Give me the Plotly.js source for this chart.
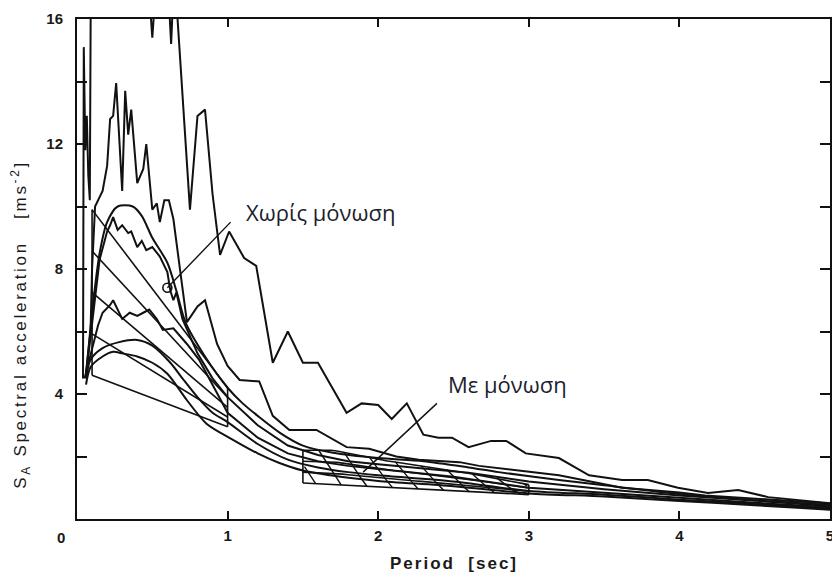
<!DOCTYPE html>
<html>
<head>
<meta charset="utf-8">
<script src="https://cdn.plot.ly/plotly-3.0.1.min.js"></script>
<style>
  html, body { margin: 0; padding: 0; background: #fff; }
  #chart { width: 832px; height: 575px; }
</style>
</head>
<body>
<div id="chart"></div>
<script>
// Acceleration response spectra, SA [m/s^2] against period T [s]

// Record A: strongest fixed-base response (runs off the top of the frame)
const periodA = [0.04,0.045,0.055,0.065,0.075,0.085,0.092,0.3,0.47,0.5,0.53,0.6,0.625,0.645,0.665,0.75,0.8,0.85,0.9,0.95,1.01,1.11,1.19,1.30,1.40,1.50,1.60,1.79,1.89,2.0,2.09,2.19,2.30,2.40,2.49,2.60,2.75,2.85,2.98,3.2,3.4,3.62,3.79,3.99,4.19,4.39,4.59,5.0];
const accelA  = [4.5,15.1,11.8,12.9,11.0,10.2,17.5,18,17.5,15.4,17.5,17.5,15.2,17.5,16.2,9.9,12.9,13.1,10.4,8.45,9.2,8.35,8.1,5.0,6.0,5.0,5.0,3.4,3.7,3.65,3.2,3.7,2.7,2.6,2.6,2.3,2.5,2.5,2.1,1.95,1.4,1.25,1.25,1.0,0.83,0.93,0.7,0.5];

// Record B
const periodB = [0.06,0.09,0.1,0.12,0.15,0.17,0.2,0.22,0.24,0.26,0.3,0.32,0.34,0.36,0.4,0.44,0.46,0.5,0.53,0.55,0.58,0.61,0.64,0.67,0.73,0.8,0.85,0.93,1.0,1.08,1.21,1.3,1.41,1.59,1.79,1.94,2.12,2.27,2.54,2.67,3.0,3.2,3.62,4.0,4.17,4.6,5.0];
const accelB  = [4.7,6.0,8.0,10.0,10.3,10.5,11.3,12.8,12.9,13.95,10.5,13.7,12.3,13.1,10.75,11.2,12.0,9.9,10.1,9.5,10.2,10.2,9.6,8.5,6.3,6.8,7.0,5.6,4.9,4.45,4.4,3.3,2.85,2.85,2.3,2.25,2.0,1.9,1.82,1.7,1.5,1.4,1.0,0.85,0.75,0.62,0.5];

// Record C
const periodC = [0.06,0.1,0.15,0.2,0.22,0.24,0.27,0.3,0.34,0.36,0.4,0.43,0.46,0.5,0.55,0.6,0.62,0.64,0.66,0.7,0.8,0.9,1.0,1.2,1.4,1.6,1.8,2.0,2.3,2.6,3.0,3.5,4.0,4.5,5.0];
const accelC  = [4.6,6.2,8.3,9.2,9.4,9.66,9.25,9.4,9.15,9.2,8.7,8.9,8.6,8.7,8.4,7.9,7.3,7.0,7.25,6.4,5.3,4.5,3.9,3.0,2.35,2.05,1.85,1.75,1.62,1.48,1.2,0.95,0.75,0.58,0.42];

// Record D
const periodD = [0.05,0.1,0.14,0.17,0.22,0.24,0.26,0.3,0.35,0.4,0.44,0.48,0.53,0.57,0.64,0.73,0.81,0.9,1.0,1.2,1.4,1.6,1.8,2.0,2.5,3.0,3.5,4.0,4.5,5.0];
const accelD  = [4.5,5.5,6.2,6.6,6.85,7.0,6.8,6.4,6.6,6.5,6.6,6.7,6.4,6.05,6.1,5.6,5.1,4.3,3.4,2.6,2.1,1.85,1.7,1.6,1.35,1.0,0.85,0.68,0.52,0.38];

// Smooth spectra E, F, G
const periodE = [0.06,0.1,0.15,0.2,0.27,0.37,0.43,0.5,0.6,0.66,0.72,0.85,1.0,1.1,1.2,1.35,1.5,1.7,2.0,2.3,2.6,2.8,3.2,3.5,4.0,4.5,5.0];
const accelE  = [4.6,6.6,8.5,9.5,10.0,10.0,9.7,9.0,8.2,7.3,6.3,5.2,4.2,3.7,3.3,2.75,2.35,2.12,1.95,1.85,1.65,1.5,1.25,1.08,0.8,0.6,0.45];

const periodF = [0.06,0.09,0.17,0.28,0.4,0.5,0.62,0.7,0.8,0.9,1.0,1.2,1.4,1.6,1.8,2.0,2.5,3.0,3.5,4.0,4.5,5.0];
const accelF  = [4.5,5.1,5.47,5.66,5.73,5.55,5.0,4.5,3.9,3.4,3.1,2.4,1.9,1.65,1.5,1.4,1.2,0.9,0.78,0.62,0.48,0.34];

const periodG = [0.06,0.09,0.17,0.24,0.3,0.4,0.5,0.6,0.73,0.86,1.03,1.2,1.34,1.5,1.75,2.0,2.5,3.0,3.5,4.0,4.5,5.0];
const accelG  = [4.3,4.86,5.2,5.35,5.3,5.2,5.0,4.65,3.8,3.05,2.55,2.1,1.8,1.55,1.35,1.22,1.05,0.82,0.72,0.58,0.44,0.3];

// Band without isolation (short periods)
const band1Period = [0.1, 1.0];
const band1Upper  = [9.9, 4.2];
const band1Lower  = [4.6, 2.95];
const band1Fractions = [0, 0.25, 0.5, 0.75, 1];

// Band with isolation (long periods)
const band2Period = [1.5, 1.7, 2.0, 2.5, 3.0];
const band2Upper  = [2.2, 2.2, 1.9, 1.55, 1.1];
const band2Lower  = [1.15, 1.1, 1.03, 0.9, 0.78];
const band2Fractions = [0, 1/3, 2/3, 1];
const band2HatchStep = 0.17;
const band2HatchRun = 0.15;

// Leader lines for the two labels
const leader1Period = [0.6, 1.02];
const leader1Accel  = [7.4, 9.5];
const leader2Period = [1.9, 2.39];
const leader2Accel  = [1.5, 3.7];

// Axis ticks
const xTickVals = [1, 2, 3, 4, 5];
const xTickText = ['1', '2', '3', '4', '5'];
const yTickVals = [4, 8, 12, 16];
const yTickText = ['4', '8', '12', '16'];
const yMinorVals = [2, 6, 10, 14];

const INK = '#111';

function interp(xs, ys, x) {
  if (x <= xs[0]) return ys[0];
  for (let i = 1; i < xs.length; i++) {
    if (x <= xs[i]) {
      const f = (x - xs[i - 1]) / (xs[i] - xs[i - 1]);
      return ys[i - 1] + f * (ys[i] - ys[i - 1]);
    }
  }
  return ys[ys.length - 1];
}

// point inside a band given its period and fraction from upper to lower edge
function bandPoint(px, up, lo, x, t) {
  const u = interp(px, up, x), l = interp(px, lo, x);
  return u + t * (l - u);
}

function bandLines(px, up, lo, fractions) {
  const xs = [], ys = [];
  const x0 = px[0], x1 = px[px.length - 1];
  fractions.forEach(t => {
    for (let k = 0; k <= 40; k++) {
      const x = x0 + (x1 - x0) * k / 40;
      xs.push(x); ys.push(bandPoint(px, up, lo, x, t));
    }
    xs.push(null); ys.push(null);
  });
  // end edges
  [x0, x1].forEach(x => {
    xs.push(x, x, null);
    ys.push(interp(px, up, x), interp(px, lo, x), null);
  });
  return { xs, ys };
}

function bandHatch(px, up, lo, step, run) {
  const xs = [], ys = [];
  const x0 = px[0], x1 = px[px.length - 1];
  for (let start = x0 - run + step * 0.5; start < x1; start += step) {
    let open = false;
    for (let k = 0; k <= 12; k++) {
      const t = k / 12;
      const x = start + run * t;
      if (x >= x0 && x <= x1) {
        xs.push(x); ys.push(bandPoint(px, up, lo, x, t)); open = true;
      }
    }
    if (open) { xs.push(null); ys.push(null); }
  }
  return { xs, ys };
}

const band1 = bandLines(band1Period, band1Upper, band1Lower, band1Fractions);
const band2 = bandLines(band2Period, band2Upper, band2Lower, band2Fractions);
const hatch2 = bandHatch(band2Period, band2Upper, band2Lower, band2HatchStep, band2HatchRun);

function curve(x, y, shape, w) {
  return { x, y, type: 'scatter', mode: 'lines', hoverinfo: 'skip',
           line: { color: INK, width: w || 2, shape: shape || 'linear', smoothing: 0.8 } };
}

const traces = [
  curve(periodA, accelA),
  curve(periodB, accelB),
  curve(periodC, accelC),
  curve(periodD, accelD),
  curve(periodE, accelE, 'spline'),
  curve(periodF, accelF, 'spline'),
  curve(periodG, accelG, 'spline'),
  curve(band1.xs, band1.ys, 'linear', 1.6),
  curve(band2.xs, band2.ys, 'linear', 1.6),
  curve(hatch2.xs, hatch2.ys, 'linear', 1.4),
  curve(leader1Period, leader1Accel, 'linear', 1.4),
  curve(leader2Period, leader2Accel, 'linear', 1.4),
  { x: [leader1Period[0]], y: [leader1Accel[0]], type: 'scatter', mode: 'markers', hoverinfo: 'skip',
    marker: { symbol: 'circle-open', size: 9, color: INK, line: { width: 1.6, color: INK } } }
];

const tickFont = { family: 'Liberation Sans, Arial, sans-serif', size: 15, color: '#1a1a1a', weight: 'bold' };

const layout = {
  width: 832, height: 575,
  margin: { l: 77, r: 2, t: 19, b: 56 },
  paper_bgcolor: '#fff', plot_bgcolor: '#fff',
  showlegend: false,
  xaxis: {
    range: [0, 5], tickvals: xTickVals, ticktext: xTickText,
    ticks: 'inside', ticklen: 8, tickwidth: 2, tickcolor: INK,
    showline: true, linecolor: INK, linewidth: 2, mirror: 'ticks',
    showgrid: false, zeroline: false, tickfont: tickFont,
    ticklabeloverflow: 'allow', ticklabelstandoff: 2
  },
  yaxis: {
    range: [0, 16], tickvals: yTickVals, ticktext: yTickText,
    ticks: 'inside', ticklen: 10, tickwidth: 2, tickcolor: INK,
    minor: { tickvals: yMinorVals, ticks: 'inside', ticklen: 10, tickwidth: 2, tickcolor: INK, showgrid: false },
    showline: true, linecolor: INK, linewidth: 2, mirror: 'ticks',
    showgrid: false, zeroline: false, tickfont: tickFont,
    ticklabelstandoff: 9
  },
  annotations: [
    { x: -0.0212, y: -0.036, xref: 'paper', yref: 'paper', text: '0', showarrow: false,
      font: tickFont, xanchor: 'center', yanchor: 'middle' },
    { x: 0.5, y: -0.088, xref: 'paper', yref: 'paper', text: 'Period  [sec]', showarrow: false,
      font: { family: 'Liberation Sans, Arial, sans-serif', size: 17, color: '#1a1a1a', weight: 'bold' },
      xanchor: 'center', yanchor: 'middle' },
    { x: -0.0755, y: 0.39, xref: 'paper', yref: 'paper', textangle: -90,
      text: 'S<sub>A</sub> Spectral acceleration   [ms<sup>-2</sup>]', showarrow: false,
      font: { family: 'Liberation Sans, Arial, sans-serif', size: 17, color: '#1a1a1a' },
      xanchor: 'center', yanchor: 'middle' },
    { x: 1.616, y: 9.82, xref: 'x', yref: 'y', text: 'Χωρίς μόνωση', showarrow: false,
      font: { family: 'Open Sans, sans-serif', size: 22, color: '#1b1e2c' },
      xanchor: 'center', yanchor: 'middle' },
    { x: 2.86, y: 4.32, xref: 'x', yref: 'y', text: 'Με μόνωση', showarrow: false,
      font: { family: 'Open Sans, sans-serif', size: 22, color: '#1b1e2c' },
      xanchor: 'center', yanchor: 'middle' }
  ]
};

Plotly.newPlot('chart', traces, layout, { staticPlot: true, displayModeBar: false }).then(() => {
  document.querySelectorAll('.annotation-text').forEach(el => {
    const s = el.textContent;
    if (s.indexOf('Period') === 0) el.style.letterSpacing = '2px';
    if (s.indexOf('Spectral') >= 0) el.style.letterSpacing = '2.7px';
  });
});
</script>
</body>
</html>
